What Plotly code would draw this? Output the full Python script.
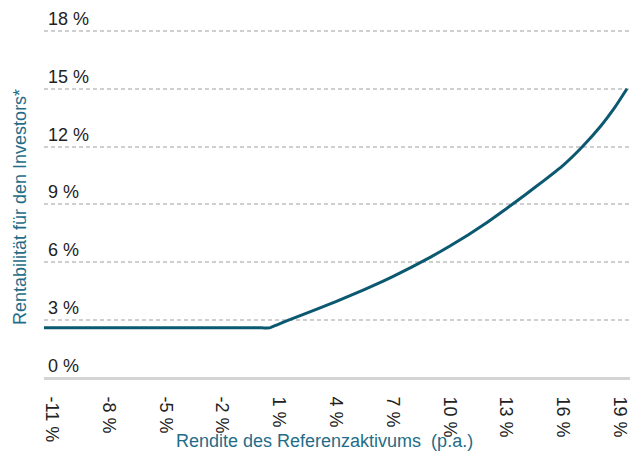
import plotly.graph_objects as go

# Data
rendite_ref = [-11.41, 0.1, 0.5, 0.9, 1.5, 3, 4, 5, 6, 7, 8, 9, 10, 11, 12, 13, 14, 15, 16, 17, 18, 18.7, 19.37]
rendite_inv = [2.6, 2.6, 2.6, 2.76, 3.0, 3.57, 3.96, 4.37, 4.8, 5.26, 5.75, 6.27, 6.83, 7.43, 8.08, 8.78, 9.5, 10.25, 11.03, 11.98, 13.08, 13.99, 15.0]

x_ticks = [-11, -8, -5, -2, 1, 4, 7, 10, 13, 16, 19]
x_labels = [f"{v} %" for v in x_ticks]
y_ticks = [0, 3, 6, 9, 12, 15, 18]
y_labels = [f"{v} %" for v in y_ticks]

LINE = "#0b5871"
TITLE = "#1f6d88"
FONT = "Liberation Sans, Arial, sans-serif"
FS = 18

fig = go.Figure()
fig.add_trace(go.Scatter(x=rendite_ref, y=rendite_inv, mode="lines",
                         line=dict(color=LINE, width=3, shape="spline", smoothing=0.4),
                         hoverinfo="skip", showlegend=False))

annotations = [
    dict(text=lab, xref="paper", yref="y", x=0.003, y=val, xanchor="left",
         yanchor="bottom", yshift=0, showarrow=False,
         font=dict(size=FS, color="#222222", family=FONT))
    for val, lab in zip(y_ticks, y_labels)
]
annotations += [
    dict(text="Rendite des Referenzaktivums  (p.a.)", xref="paper", yref="paper",
         x=(324 - 44) / 586, y=-(441 - 378) / 351, xanchor="center", yanchor="middle",
         showarrow=False, font=dict(size=FS, color=TITLE, family=FONT)),
    dict(text="Rentabilität für den Investors*", xref="paper", yref="paper",
         x=(20 - 44) / 586, y=(378 - 207) / 351, xanchor="center", yanchor="middle",
         textangle=-90, showarrow=False, font=dict(size=FS, color=TITLE, family=FONT)),
]

fig.update_layout(
    width=636, height=455,
    margin=dict(l=44, r=6, t=27, b=77, autoexpand=False),
    paper_bgcolor="white", plot_bgcolor="white",
    font=dict(family=FONT, size=FS, color="#222222"),
    xaxis=dict(range=[-11.41, 19.53], tickmode="array", tickvals=x_ticks,
               ticktext=x_labels, tickangle=90, showgrid=False, zeroline=False,
               ticks="outside", ticklen=14, tickcolor="rgba(0,0,0,0)",
               tickfont=dict(size=FS, color="#222222"), showline=False,
               automargin=False),
    yaxis=dict(range=[0, 18.2], tickmode="array", tickvals=y_ticks,
               showticklabels=False, ticks="",
               showgrid=True, gridcolor="#cfcfcf", gridwidth=1.5, griddash="4px,3px",
               zeroline=True, zerolinecolor="#d4d4d4", zerolinewidth=2.5,
               showline=False, automargin=False),
    annotations=annotations,
)

fig.write_html("out.html", config={"displayModeBar": False},
               post_script="document.body.style.margin='0';document.body.style.padding='0';document.body.style.overflow='hidden';")
